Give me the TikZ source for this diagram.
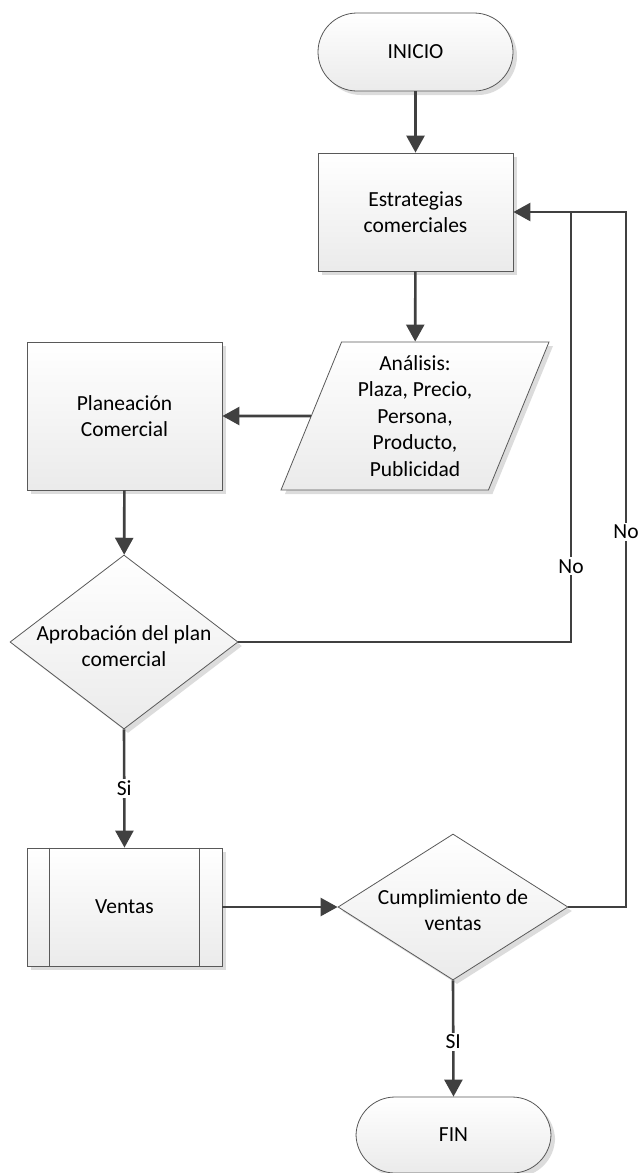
\documentclass[tikz,border=0pt]{standalone}
\usepackage{fontspec}
\setmainfont{Carlito}
\usetikzlibrary{arrows.meta,shapes.geometric,shadows}

\definecolor{linegray}{HTML}{404040}
\definecolor{edgegray}{HTML}{595959}
\definecolor{shadowgray}{HTML}{DCDCDC}

\tikzset{
  shapebase/.style={draw=edgegray, line width=0.8pt, top color=white,
    bottom color=black!8, inner sep=0pt, align=center,
    drop shadow={shadow xshift=4pt, shadow yshift=-4pt, fill=shadowgray, opacity=1}},
  term/.style={shapebase, rectangle, rounded corners=39pt,
    minimum width=195pt, minimum height=78pt},
  procbox/.style={shapebase, rectangle, minimum width=195pt},
  decision/.style={shapebase, diamond},
  iobox/.style={shapebase, trapezium, trapezium left angle=63.43,
    trapezium right angle=116.57, trapezium stretches body,
    minimum width=268pt, minimum height=148pt},
  conn/.style={draw=linegray, line width=2.6pt,
    -{Triangle[length=17pt,width=18pt]}},
  plainline/.style={draw=linegray, line width=2.6pt},
  lbl/.style={fill=white, inner sep=2pt}
}

\begin{document}
\begin{tikzpicture}[x=1pt, y=-1pt, font=\fontsize{21.5}{26.5}\selectfont]
  \useasboundingbox (0,0) rectangle (641,1173);

  % nodes of the flow
  \node[term] (inicio) at (415.5,52) {INICIO};
  \node[procbox, minimum height=118pt] (estr) at (415.5,212) {Estrategias\\comerciales};
  \node[iobox] (ana) at (415,416) {An\'alisis:\\Plaza, Precio,\\Persona,\\Producto,\\Publicidad};
  \node[procbox, minimum height=148pt] (plan) at (124.5,416) {Planeaci\'on\\Comercial};
  \node[decision, minimum width=228pt, minimum height=174pt] (aprob) at (124,642) {};
  \node[align=center] (aprobtxt) at (124,646) {Aprobaci\'on del plan\\comercial};
  \node[procbox, minimum height=118pt] (ventas) at (124.5,907) {Ventas};
  \draw[draw=edgegray, line width=0.8pt]
    ([xshift=23pt]ventas.north west) -- ([xshift=23pt]ventas.south west)
    ([xshift=-23pt]ventas.north east) -- ([xshift=-23pt]ventas.south east);
  \node[decision, minimum width=230pt, minimum height=146pt] (cumpl) at (453,907) {};
  \node[align=center] (cumpltxt) at (453,910) {Cumplimiento de\\ventas};
  \node[term, minimum height=76pt] (fin) at (453.5,1135) {FIN};

  % corner points of the return loops
  \coordinate (loopa) at (571,212);
  \coordinate (loopb) at (626,907);

  % connectors
  \draw[conn] (inicio) -- (estr);
  \draw[conn] (estr) -- (ana);
  \draw[conn] (ana.west) -- (plan.east);
  \draw[conn] (plan) -- (aprob);
  \draw[conn] (aprob.south) -- node[lbl] {Si} (ventas.north);
  \draw[conn] (ventas.east) -- (cumpl.west);
  \draw[conn] (cumpl.south) -- node[lbl, pos=0.53] {SI} (fin.north);
  \draw[plainline] (aprob.east) -| node[lbl, pos=0.588] {No} (loopa);
  \draw[conn] (cumpl.east) -- (loopb) |- node[lbl, pos=0.27] {No} (estr.east);
\end{tikzpicture}
\end{document}
